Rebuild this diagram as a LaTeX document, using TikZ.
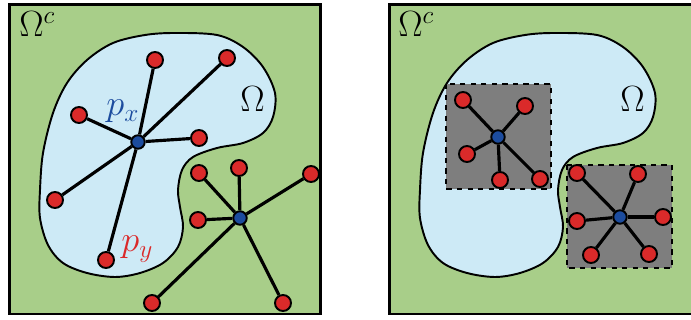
\documentclass[tikz,border=0pt]{standalone}
\usepackage{amsmath,amssymb}
\usepackage{tikz}
\usetikzlibrary{positioning}
\usepackage{xcolor}

\definecolor{fieldgreen}{RGB}{168,206,137}
\definecolor{domainblue}{RGB}{205,234,246}
\definecolor{ptred}{RGB}{218,42,42}
\definecolor{ptblue}{RGB}{28,76,158}
\definecolor{windowgray}{RGB}{126,126,126}

% outline of the domain Omega (pixel units, y pointing down)
\newcommand{\omegaoutline}{plot[smooth cycle, tension=0.55] coordinates {
  (175,33) (217,35) (243,47) (263,67) (275,93) (273,117) (263,133)
  (243,143) (217,148) (193,157) (182,170) (178,190) (180,207) (183,227)
  (178,247) (163,263) (140,273) (115,277) (87,273) (63,263) (48,245)
  (40,218) (40,190) (43,153) (53,113) (67,83) (87,60) (113,43) (145,35)}}

\begin{document}
\begin{tikzpicture}[
  x=0.02cm, y=-0.02cm,
  panel/.style={draw, line width=1.7pt, fill=fieldgreen},
  region/.style={draw, line width=1.1pt, fill=domainblue},
  window/.style={draw, line width=1.1pt, dashed, fill=windowgray},
  edge/.style={line width=1.8pt},
  rednode/.style={circle, draw, line width=1.1pt, fill=ptred, inner sep=0pt, minimum size=0.32cm},
  bluenode/.style={circle, draw, line width=1.1pt, fill=ptblue, inner sep=0pt, minimum size=0.27cm},
  lbl/.style={inner sep=0pt, anchor=base west, font=\fontsize{20}{24}\selectfont},
  ]
  \clip (0,0) rectangle (691,320);

  % left panel
  \draw[panel] (9.5,4.5) rectangle (320.5,314);
  \draw[region] \omegaoutline;

  \node[bluenode] (px) at (138,142) {};
  \node[rednode] (x1) at (155,60) {};
  \node[rednode] (x2) at (227,58) {};
  \node[rednode] (x3) at (79,115) {};
  \node[rednode] (x4) at (199,138) {};
  \node[rednode] (x5) at (55,200) {};
  \node[rednode] (x6) at (106,260) {};
  \draw[edge] (px) -- (x1);
  \draw[edge] (px) -- (x2);
  \draw[edge] (px) -- (x3);
  \draw[edge] (px) -- (x4);
  \draw[edge] (px) -- (x5);
  \draw[edge] (px) -- (x6);
  \node[bluenode] (pz) at (240,218) {};
  \node[rednode] (z1) at (199,173) {};
  \node[rednode] (z2) at (239,168) {};
  \node[rednode] (z3) at (311,174) {};
  \node[rednode] (z4) at (198,220) {};
  \node[rednode] (z5) at (152,303) {};
  \node[rednode] (z6) at (283,303) {};
  \draw[edge] (pz) -- (z1);
  \draw[edge] (pz) -- (z2);
  \draw[edge] (pz) -- (z3);
  \draw[edge] (pz) -- (z4);
  \draw[edge] (pz) -- (z5);
  \draw[edge] (pz) -- (z6);

  \node[lbl] (outL) at (19,37) {$\Omega^c$};
  \node[lbl] (omL) at (240,112) {$\Omega$};
  \node[lbl, text=ptblue] (pxlbl) at (106,116) {$p_x$};
  \node[lbl, text=ptred] (pylbl) at (121,252) {$p_y$};

  % right panel
  \draw[panel] (389.5,4.5) rectangle (700.5,314);
  \begin{scope}[shift={(380,0)}]
    \draw[region] \omegaoutline;
  \end{scope}
  \draw[window] (446,84) rectangle (551,189);
  \draw[window] (567,165) rectangle (672,268);

  \node[bluenode] (wa) at (498,137) {};
  \node[rednode] (a1) at (463,100) {};
  \node[rednode] (a2) at (525,106) {};
  \node[rednode] (a3) at (467,154) {};
  \node[rednode] (a4) at (500,180) {};
  \node[rednode] (a5) at (540,179) {};
  \draw[edge] (wa) -- (a1);
  \draw[edge] (wa) -- (a2);
  \draw[edge] (wa) -- (a3);
  \draw[edge] (wa) -- (a4);
  \draw[edge] (wa) -- (a5);
  \node[bluenode] (wb) at (620,217) {};
  \node[rednode] (b1) at (577,173) {};
  \node[rednode] (b2) at (638,174) {};
  \node[rednode] (b3) at (577,221) {};
  \node[rednode] (b4) at (663,217) {};
  \node[rednode] (b5) at (591,255) {};
  \node[rednode] (b6) at (649,254) {};
  \draw[edge] (wb) -- (b1);
  \draw[edge] (wb) -- (b2);
  \draw[edge] (wb) -- (b3);
  \draw[edge] (wb) -- (b4);
  \draw[edge] (wb) -- (b5);
  \draw[edge] (wb) -- (b6);

  \node[lbl] (outR) at (398,37) {$\Omega^c$};
  \node[lbl] (omR) at (620,112) {$\Omega$};
\end{tikzpicture}
\end{document}
